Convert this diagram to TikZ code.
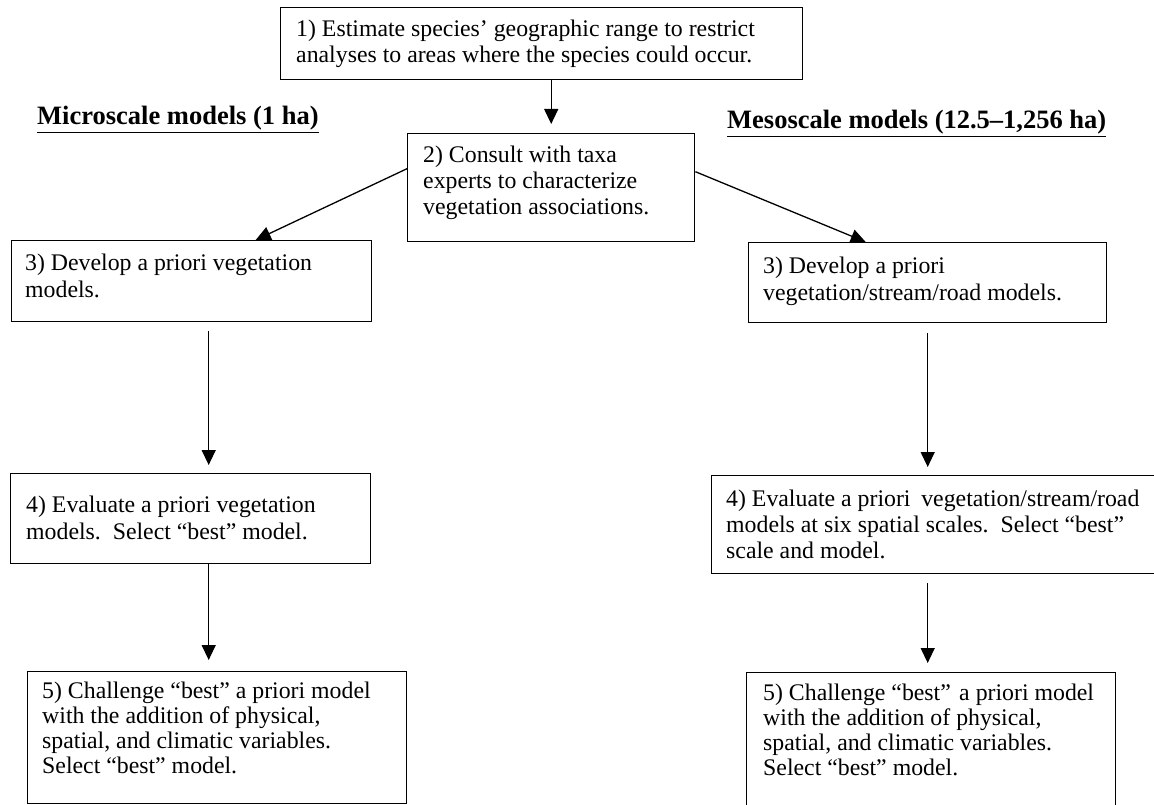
\documentclass[tikz,border=0pt]{standalone}
\usepackage{fontspec}
\setmainfont{Liberation Serif}
\usetikzlibrary{arrows.meta}
\begin{document}
\begin{tikzpicture}[x=1pt,y=-1pt,
  box/.style={draw, line width=1.4pt, inner sep=0pt, anchor=north west},
  txt/.style={inner sep=0pt, anchor=base west, font=\fontsize{23.8}{26}\selectfont},
  head/.style={inner sep=0pt, anchor=base west, font=\bfseries\fontsize{26.5}{30}\selectfont},
  arr/.style={line width=1.3pt, -{Triangle[length=15pt,width=14pt]}}]
\useasboundingbox (0,0) rectangle (1154,805);
\clip (0,0) rectangle (1154,805);
% boxes
\node[box, minimum width=522pt, minimum height=72pt]  (b1)  at (280,7)   {};
\node[box, minimum width=287pt, minimum height=108pt] (b2)  at (407,133) {};
\node[box, minimum width=360pt, minimum height=81pt]  (b3l) at (11,240)  {};
\node[box, minimum width=358pt, minimum height=80pt]  (b3r) at (748,242) {};
\node[box, minimum width=360pt, minimum height=90pt]  (b4l) at (10,473)  {};
\node[box, minimum width=460pt, minimum height=98pt]  (b4r) at (711,475) {};
\node[box, minimum width=379pt, minimum height=132pt] (b5l) at (27,671)  {};
\node[box, minimum width=369pt, minimum height=150pt] (b5r) at (746,672) {};
% texts
\node[txt] (t1) at (296,37) {\parbox[t]{520pt}{1) Estimate species’ geographic range to restrict\\analyses to areas where the species could occur.}};
\node[txt] (t2) at (423,163) {\parbox[t]{500pt}{2) Consult with taxa\\experts to characterize\\vegetation associations.}};
\node[txt, font=\fontsize{23.8}{28}\selectfont] (t3l) at (25,270) {\parbox[t]{500pt}{3) Develop a priori vegetation\\models.}};
\node[txt, font=\fontsize{23.8}{27}\selectfont] (t3r) at (763,273) {\parbox[t]{500pt}{3) Develop a priori\\vegetation/stream/road models.}};
\node[txt, font=\fontsize{23.8}{27}\selectfont] (t4l) at (26,512) {\parbox[t]{500pt}{4) Evaluate a priori vegetation\\models.\ \ Select “best” model.}};
\node[txt] (t4r) at (726,506) {\parbox[t]{500pt}{4) Evaluate a priori\hspace{0.45em}vegetation/stream/road\\models at six spatial scales.\ \ Select “best”\\scale and model.}};
\node[txt, font=\fontsize{23.8}{25}\selectfont] (t5l) at (42,698) {\parbox[t]{500pt}{5) Challenge “best” a priori model\\with the addition of physical,\\spatial, and climatic variables.\\Select “best” model.}};
\node[txt, font=\fontsize{23.8}{25}\selectfont] (t5r) at (763,700) {\parbox[t]{500pt}{5) Challenge “best”\hspace{0.35em}a priori model\\with the addition of physical,\\spatial, and climatic variables.\\Select “best” model.}};
% headings
\node[head] (hmicro) at (37,125) {\underline{Microscale models (1 ha)}};
\node[head] (hmeso) at (727,129) {\underline{Mesoscale models (12.5–1,256 ha)}};
% arrows
\draw[arr, shorten >=9pt] (b2.north |- b1.south) -- (b2.north);
\draw[arr] ([yshift=19pt]b2.west) -- ([xshift=64pt]b3l.north);
\draw[arr] ([yshift=16pt]b2.east) -- ([xshift=-62pt]b3r.north);
\draw[arr, shorten <=9pt, shorten >=8pt] ([xshift=17pt]b3l.south) -- ([xshift=18pt]b4l.north);
\draw[arr, shorten >=11pt] ([xshift=18pt]b4l.south) -- ([xshift=-8.5pt]b5l.north);
\draw[arr, shorten <=10pt, shorten >=8pt] (b3r.south) -- (b3r.south |- b4r.north);
\draw[arr, shorten <=9pt, shorten >=9pt] (b3r.south |- b4r.south) -- (b3r.south |- b5r.north);
\end{tikzpicture}
\end{document}
